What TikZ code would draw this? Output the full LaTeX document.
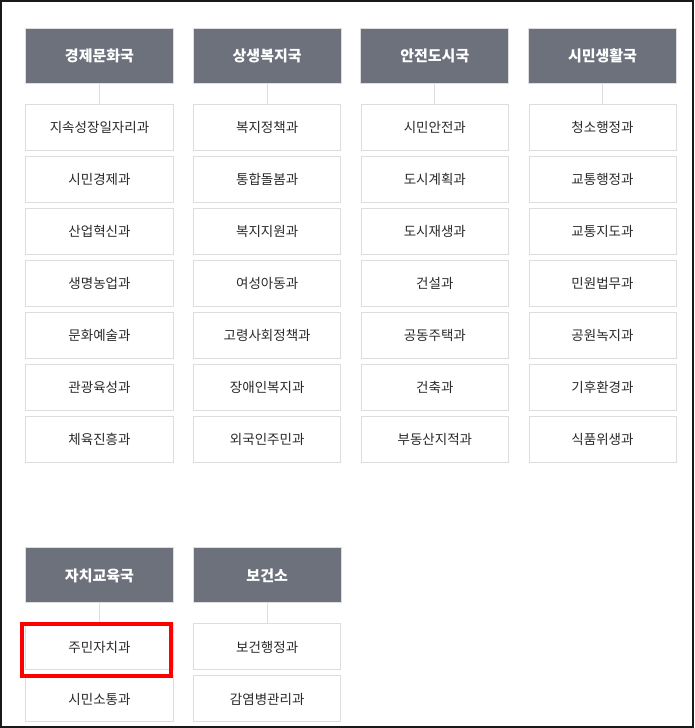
\documentclass[tikz,border=0pt]{standalone}
\usepackage{fontspec}
\setmainfont{Noto Sans CJK KR}
\usepackage{xcolor}
\usetikzlibrary{
matrix,
positioning,
calc
}
\definecolor{headgray}{HTML}{6D717C}
\definecolor{boxline}{HTML}{DDDDDD}
\definecolor{textdark}{HTML}{2A2A2A}
\tikzset{
  dept/.style={fill=headgray,text=white,font=\fontsize{15pt}{18pt}\selectfont\bfseries,
    minimum width=148pt,minimum height=55pt,inner sep=0pt,outer sep=0pt},
  unit/.style={draw=boxline,line width=1pt,fill=white,text=textdark,
    font=\fontsize{13.5pt}{16pt}\selectfont,
    minimum width=147pt,minimum height=46pt,inner sep=0pt},
  link/.style={draw=boxline,line width=1pt},
  mark box/.style={draw=red,line width=3.5pt}
}

\begin{document}
\begin{tikzpicture}
      \useasboundingbox (0,0) rectangle (694pt,-728pt);
      \matrix (org) [matrix of nodes,column sep=18.67pt,row sep=5pt,inner sep=0pt,outer sep=0pt,
                     anchor=north west,nodes={unit}] at (25pt,-28pt)
      {  |[dept]| 경제문화국 & |[dept]| 상생복지국 & |[dept]| 안전도시국 & |[dept]| 시민생활국 \\[15pt]
         지속성장일자리과 & 복지정책과 & 시민안전과 & 청소행정과 \\
         시민경제과 & 통합돌봄과 & 도시계획과 & 교통행정과 \\
         산업혁신과 & 복지지원과 & 도시재생과 & 교통지도과 \\
         생명농업과 & 여성아동과 & 건설과 & 민원법무과 \\
         문화예술과 & 고령사회정책과 & 공동주택과 & 공원녹지과 \\
         관광육성과 & 장애인복지과 & 건축과 & 기후환경과 \\
         체육진흥과 & 외국인주민과 & 부동산지적과 & 식품위생과 \\[79pt]
         |[dept]| 자치교육국 & |[dept]| 보건소 \\[15pt]
         주민자치과 & 보건행정과 \\
         시민소통과 & 감염병관리과 \\  };

      % header to first unit
      \foreach \c in {1,...,4}
        \path[link] (org-1-\c) -- (org-2-\c);
      \foreach \c in {1,2}
        \path[link] (org-9-\c) -- (org-10-\c);

      % highlighted unit
      \draw[mark box] ($(org-10-1.north west)+(-4pt,0pt)$) rectangle ($(org-10-1.south east)+(-2pt,-6pt)$);

      % frame
      \draw[line width=2pt,black!90] (1pt,-1pt) rectangle (693pt,-727pt);
   \end{tikzpicture}
\end{document}
